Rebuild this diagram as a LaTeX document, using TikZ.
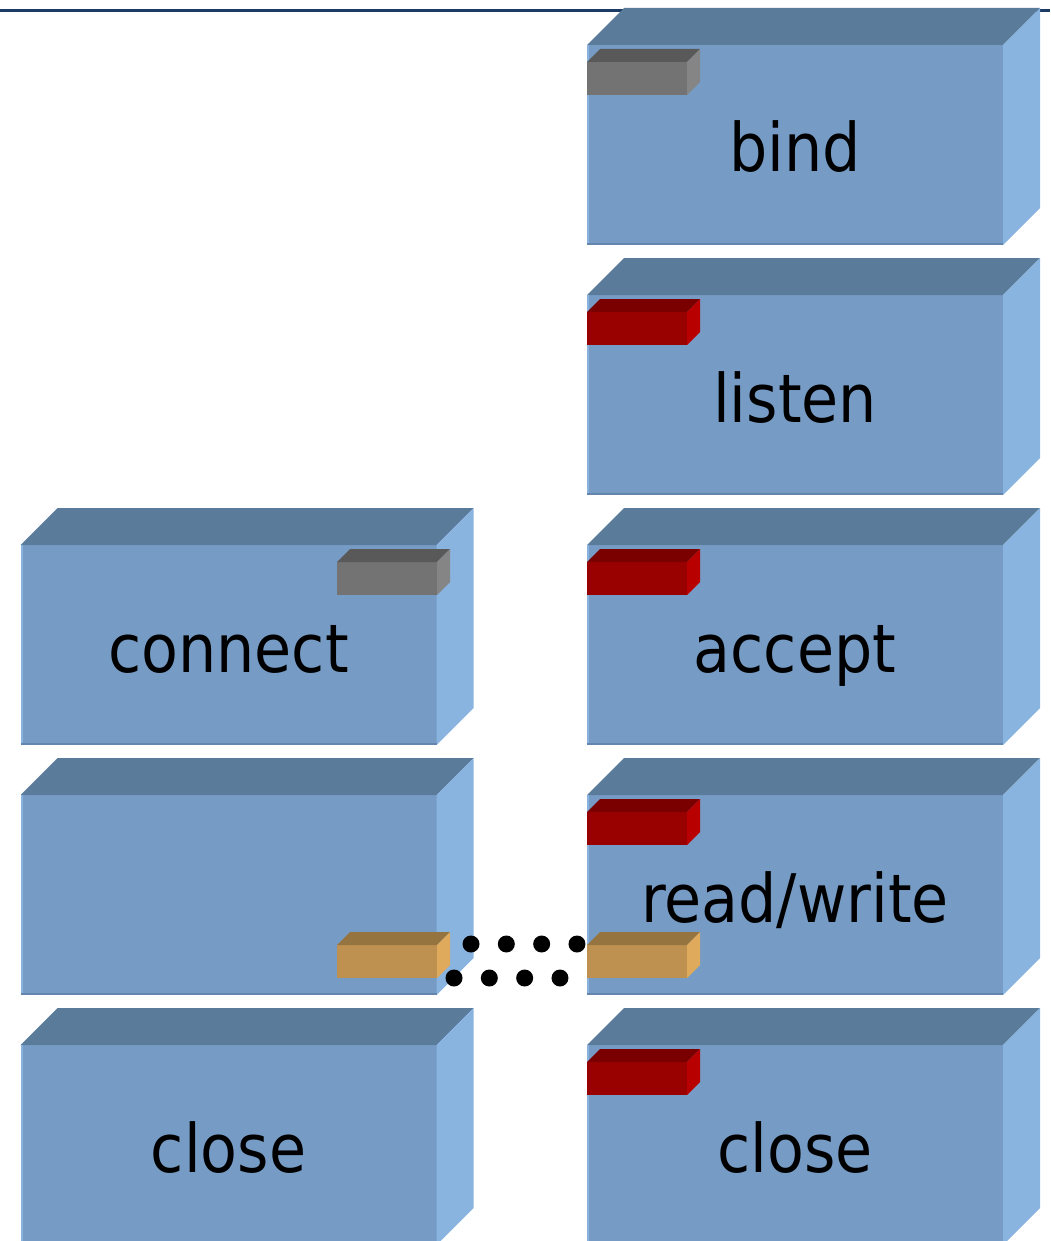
\documentclass[tikz,border=0pt]{standalone}
\usepackage{fontspec}
\setmainfont{DejaVu Sans Condensed}
\usetikzlibrary{calc}

\definecolor{frontblue}{RGB}{118,156,198}
\definecolor{topblue}{RGB}{91,123,154}
\definecolor{sideblue}{RGB}{137,180,224}
\definecolor{edgelight}{RGB}{138,178,222}
\definecolor{edgedark}{RGB}{100,134,174}
\definecolor{rulenavy}{RGB}{28,58,100}
\definecolor{grayfront}{RGB}{115,115,115}
\definecolor{graytop}{RGB}{89,89,89}
\definecolor{grayside}{RGB}{133,133,133}
\definecolor{redfront}{RGB}{153,0,0}
\definecolor{redtop}{RGB}{122,0,0}
\definecolor{redside}{RGB}{184,0,0}
\definecolor{orangefront}{RGB}{190,145,80}
\definecolor{orangetop}{RGB}{150,116,64}
\definecolor{orangeside}{RGB}{224,170,92}

\tikzset{
  frontface/.style={rectangle, inner sep=0pt, outer sep=0pt,
    minimum width=416pt, minimum height=200pt, fill=frontblue},
  boxlabel/.style={anchor=base, inner sep=0pt, text=black,
    font=\fontsize{67}{80}\selectfont},
  tabface/.style={rectangle, inner sep=0pt, outer sep=0pt,
    minimum width=100pt, minimum height=33pt, fill=#1front},
  dotline/.style={line width=17pt, line cap=round,
    dash pattern=on 0pt off 35.33pt}
}

% a block: front face node, top and side faces, label
\newcommand{\block}[4]{%
  \node[frontface] (#1) at (#2,#3) {};
  \fill[topblue] (#1.north west) -- ++(37pt,37pt)
    -- ($(#1.north east)+(37pt,37pt)$) -- (#1.north east) -- cycle;
  \fill[sideblue] (#1.north east) -- ++(37pt,37pt) -- ++(0pt,-200pt)
    -- (#1.south east) -- cycle;
  \draw[edgelight, line width=2pt] ([xshift=1pt]#1.south west) -- ([xshift=1pt]#1.north west);
  \draw[edgedark, line width=2pt] ([yshift=1pt]#1.south west) -- ([yshift=1pt]#1.south east);
  \node[boxlabel] (#1-text) at ($(#1.north)+(0pt,-127pt)$) {#4};
}

% a small tab on a block: front, top and side faces
\newcommand{\tab}[4]{%
  \node[tabface=#4] (#1) at (#2,#3) {};
  \fill[#4top] (#1.north west) -- ++(13pt,13pt)
    -- ($(#1.north east)+(13pt,13pt)$) -- (#1.north east) -- cycle;
  \fill[#4side] (#1.north east) -- ++(13pt,13pt) -- ++(0pt,-33pt)
    -- (#1.south east) -- cycle;
}

\begin{document}
\begin{tikzpicture}[x=1pt, y=-1pt]
\useasboundingbox (0,0) rectangle (1050,1241);

% rule along the top edge
\draw[rulenavy, line width=3pt] (0,11) -- (1050,11);

% server column
\block{bind}{795}{145}{bind}
\tab{bindtab}{637}{78.5}{gray}
\block{listen}{795}{395}{listen}
\tab{listentab}{637}{328.5}{red}
\block{accept}{795}{645}{accept}
\tab{accepttab}{637}{578.5}{red}
\block{rw}{795}{895}{read/write}
\tab{rwtab}{637}{961.5}{orange}
\tab{rwredtab}{637}{828.5}{red}
\block{sclose}{795}{1145}{close}
\tab{sclosetab}{637}{1078.5}{red}

% client column
\block{connect}{228.5}{645}{connect}
\tab{connecttab}{387}{578.5}{gray}
\block{cdata}{228.5}{895}{}
\tab{cdatatab}{387}{961.5}{orange}
\block{cclose}{228.5}{1145}{close}

% dotted link between the two data tabs
\draw[dotline] ($(cdatatab.north east)+(34,-1)$) -- ($(rwtab.north west)+(-10,-1)$);
\draw[dotline] ($(cdatatab.south east)+(17,0)$) -- ($(rwtab.south west)+(-27,0)$);
\end{tikzpicture}
\end{document}
